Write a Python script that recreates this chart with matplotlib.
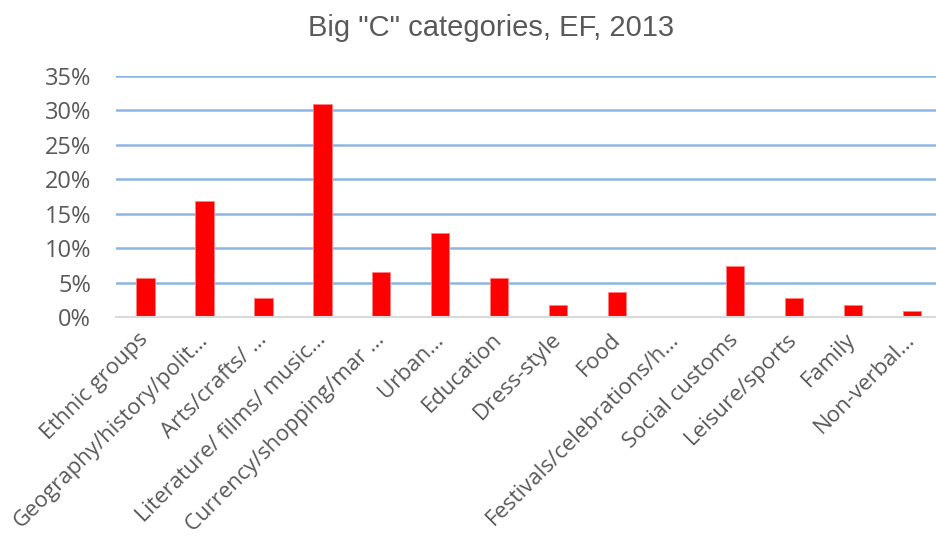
"""
Big "C" categories bar chart (EF, 2013).
Saves to out.png.
"""
import matplotlib
matplotlib.use("Agg")
import matplotlib.pyplot as plt
from matplotlib.ticker import PercentFormatter

categories = [
    "Ethnic groups", "Geography/history/polit…", "Arts/crafts/ …",
    "Literature/ films/ music…", "Currency/shopping/mar …", "Urban…",
    "Education", "Dress-style", "Food", "Festivals/celebrations/h…",
    "Social customs", "Leisure/sports", "Family", "Non-verbal…",
]
shares = [5.6, 16.9, 2.7, 31.0, 6.5, 12.2, 5.6, 1.8, 3.7, 0.0, 7.4, 2.7, 1.8, 0.9]
y_ticks = [0, 5, 10, 15, 20, 25, 30, 35]

TEXT = "#595959"
GRID = "#8EB4E3"

fig = plt.figure(figsize=(9.36, 5.4), dpi=100)
W, H = 936, 540
ax = fig.add_axes([116 / W, 1 - 317 / H, (W - 116) / W, (317 - 76) / H])

x = range(len(categories))
ax.bar(x, shares, width=0.31, color="#FF0000", edgecolor="#FF8080",
       linewidth=0.6, zorder=3)

ax.set_xlim(-0.5, 13.5 - 5.5 / 59)
ax.set_ylim(0, 35)
ax.set_yticks(y_ticks)
ax.yaxis.set_major_formatter(PercentFormatter(decimals=0))
ax.grid(axis="y", color=GRID, linewidth=1.8, zorder=0)
ax.set_axisbelow(True)

for side in ("top", "right", "left"):
    ax.spines[side].set_visible(False)
ax.spines["bottom"].set_color("#D9D9D9")
ax.spines["bottom"].set_linewidth(1.5)
ax.spines["bottom"].set_zorder(4)

ax.tick_params(axis="y", length=0, pad=18, labelsize=17, labelcolor=TEXT)
ax.tick_params(axis="x", length=0, pad=14)
for lab in ax.get_yticklabels():
    lab.set_fontfamily("Open Sans")

ax.set_xticks(list(x))
ax.set_xticklabels(categories, rotation=45, ha="right", va="center",
                   rotation_mode="anchor", fontsize=16, color=TEXT,
                   family="Open Sans")

fig.text(491 / W, 1 - 28 / H, 'Big "C" categories, EF, 2013',
         ha="center", va="center", fontsize=21, color=TEXT,
         family="Liberation Sans")

fig.savefig("out.png", dpi=100)
